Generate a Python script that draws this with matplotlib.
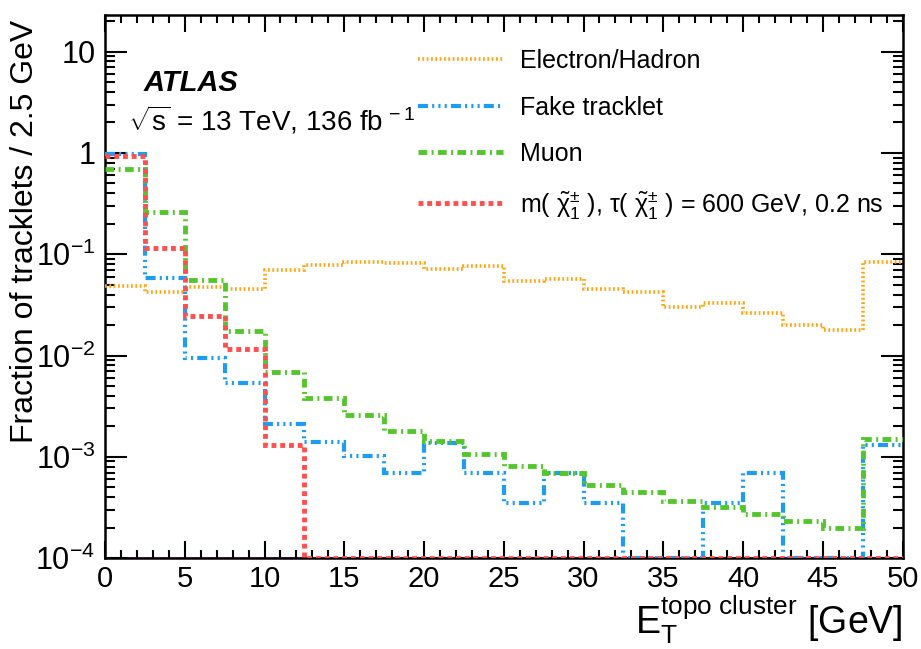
import matplotlib
matplotlib.use("Agg")
import matplotlib.pyplot as plt
import matplotlib.ticker as ticker
import numpy as np

# Bin edges (2.5 GeV bins) and fractions per bin
bin_edges = np.arange(0.0, 50.0 + 2.5, 2.5)

electron_hadron = [0.048, 0.042, 0.047, 0.045, 0.070, 0.079, 0.084, 0.081, 0.072, 0.077,
                   0.054, 0.057, 0.045, 0.042, 0.030, 0.033, 0.026, 0.020, 0.018, 0.084]
fake_tracklet = [0.98, 0.058, 0.0095, 0.0053, 0.0021, 0.00139, 0.00103, 0.00069, 0.00136, 0.00069,
                 0.00035, 0.00069, 0.00035, 0.0, 0.0, 0.00035, 0.00069, 0.0, 0.0, 0.0013]
muon = [0.70, 0.26, 0.056, 0.0173, 0.0069, 0.0038, 0.00258, 0.00178, 0.00142, 0.00106,
        0.00081, 0.00069, 0.00053, 0.00045, 0.00037, 0.00032, 0.00027, 0.00023, 0.00020, 0.0015]
signal = [0.93, 0.115, 0.0243, 0.0117, 0.0013, 0.0, 0.0, 0.0, 0.0, 0.0,
          0.0, 0.0, 0.0, 0.0, 0.0, 0.0, 0.0, 0.0, 0.0, 0.0]

labels = [
    "Electron/Hadron",
    "Fake tracklet",
    "Muon",
    r"m( $\tilde{\mathrm{\chi}}_{1}^{\pm}$ ), τ( $\tilde{\mathrm{\chi}}_{1}^{\pm}$ ) = 600 GeV, 0.2 ns",
]

plt.rcParams.update({
    "font.family": ["Liberation Sans", "DejaVu Sans"],
    "mathtext.fontset": "custom",
    "mathtext.rm": "Liberation Sans",
    "mathtext.it": "Liberation Sans:italic",
    "mathtext.bf": "Liberation Sans:bold",
})

y_min, y_max = 1e-4, 23.0

fig = plt.figure(figsize=(9.21, 6.49), dpi=100)
ax = fig.add_axes([0.114, 0.140, 0.866, 0.837])

styles = [
    dict(color="#FFA514", lw=2.6, ls=(0, (0.5, 0.7))),
    dict(color="#1E9CF0", lw=3.0, ls=(0, (2.4, 1.0, 0.5, 1.0, 0.5, 1.0, 0.5, 1.0))),
    dict(color="#55C52E", lw=3.5, ls=(0, (1.8, 0.9, 0.4, 0.9))),
    dict(color="#FF4F4F", lw=3.5, ls=(0, (1.0, 0.8))),
]
series = [electron_hadron, fake_tracklet, muon, signal]

# thin magenta line sitting on the lower edge, as in the original
ax.axhline(y_min, color="#E020E0", lw=1.2, zorder=1)

handles = []
for vals, st, lab in zip(series, styles, labels):
    v = np.asarray(vals, dtype=float)
    v = np.where(v > 0, v, y_min)  # empty bins sit on the floor
    ax.stairs(v, bin_edges, baseline=None, label=lab,
              color=st["color"], linewidth=st["lw"], linestyle=st["ls"], zorder=3)
    handles.append(plt.Line2D([], [], color=st["color"], lw=st["lw"], ls=st["ls"]))

ax.set_yscale("log")
ax.set_xlim(0, 50)
ax.set_ylim(y_min, y_max)

ax.xaxis.set_major_locator(ticker.MultipleLocator(5))
ax.xaxis.set_minor_locator(ticker.MultipleLocator(1))
ax.yaxis.set_major_locator(ticker.LogLocator(base=10, numticks=20))
ax.yaxis.set_minor_locator(ticker.LogLocator(base=10, subs=np.arange(2, 10), numticks=20))
ax.yaxis.set_minor_formatter(ticker.NullFormatter())


def y_fmt(val, pos):
    exp = int(round(np.log10(val)))
    if exp == 0:
        return "1"
    if exp == 1:
        return "10"
    return r"$10^{%d}$" % exp


ax.yaxis.set_major_formatter(ticker.FuncFormatter(y_fmt))

ax.tick_params(which="both", direction="in", top=True, right=True, width=1.5)
ax.tick_params(axis="x", which="major", length=12, labelsize=21, pad=5)
ax.tick_params(axis="x", which="minor", length=6)
ax.tick_params(axis="y", which="major", length=16, labelsize=22, pad=7)
ax.tick_params(axis="y", which="minor", length=7.5)
for sp in ax.spines.values():
    sp.set_linewidth(1.8)

ax.set_ylabel("Fraction of tracklets / 2.5 GeV", fontsize=23, ha="right")
ax.yaxis.set_label_coords(-0.082, 0.991)
ax.set_xlabel(r"$\mathrm{E}_{\mathrm{T}}^{\mathrm{topo\ cluster}}$ [GeV]", fontsize=27,
              loc="right", labelpad=0)

ax.text(0.048, 0.860, "ATLAS", transform=ax.transAxes, fontsize=21,
        fontweight="bold", fontstyle="italic", va="baseline", ha="left")
ax.text(0.029, 0.788, r"$\sqrt{\mathrm{s}}$ = 13 TeV, 136 fb$^{\,-1}$", transform=ax.transAxes,
        fontsize=20, va="baseline", ha="left")

ax.legend(handles, labels, loc="upper left", bbox_to_anchor=(0.392, 0.937),
          frameon=False, fontsize=18, handlelength=3.4, handletextpad=0.7,
          labelspacing=0.9, borderpad=0, borderaxespad=0)

fig.savefig("out.png", dpi=100)
